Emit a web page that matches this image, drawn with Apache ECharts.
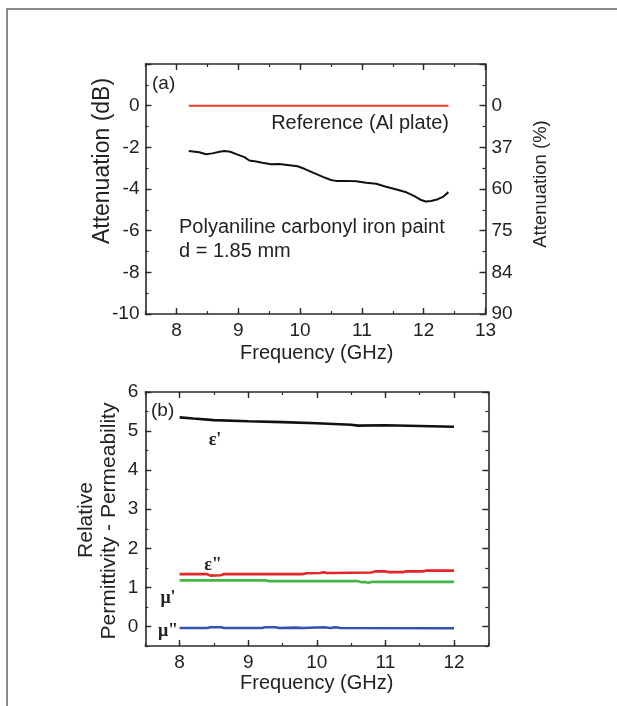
<!DOCTYPE html>
<html>
<head>
<meta charset="utf-8">
<script src="https://cdn.jsdelivr.net/npm/echarts@6/dist/echarts.min.js"></script>
<style>html,body{margin:0;padding:0;background:#fff;}#c{width:617px;height:706px;}</style>
</head>
<body>
<div id="c"></div>
<script>
// ---- Data (a) ----
const topFreq = [8.2, 8.3, 8.37, 8.48, 8.58, 8.7, 8.78, 8.87, 8.99, 9.1, 9.18, 9.29, 9.39, 9.53, 9.66, 9.83, 9.96, 10.07, 10.2, 10.37, 10.5, 10.58, 10.75, 10.91, 11.07, 11.23, 11.39, 11.56, 11.72, 11.85, 11.96, 12.03, 12.12, 12.23, 12.31, 12.4];
const topAtten = [-2.18, -2.21, -2.24, -2.33, -2.29, -2.21, -2.18, -2.21, -2.35, -2.47, -2.63, -2.68, -2.74, -2.81, -2.8, -2.86, -2.91, -3.03, -3.2, -3.42, -3.57, -3.61, -3.61, -3.63, -3.7, -3.75, -3.89, -4.02, -4.16, -4.34, -4.53, -4.6, -4.58, -4.49, -4.38, -4.15];
const refFreq = [8.2, 12.4];
const refAtten = [0, 0];
const rightTickValues = [0, -2, -4, -6, -8, -10];
const rightTickLabels = ["0", "37", "60", "75", "84", "90"];

// ---- Data (b) ----
const epsRealFreq = [8.0, 8.2, 8.5, 9.0, 9.5, 10.0, 10.5, 10.6, 11.0, 11.5, 12.0];
const epsRealVal = [5.35, 5.32, 5.28, 5.25, 5.23, 5.2, 5.16, 5.14, 5.15, 5.13, 5.11];
const epsImagFreq = [8.0, 8.4, 8.45, 8.6, 8.65, 9.8, 9.85, 10.05, 10.1, 10.15, 10.2, 10.8, 10.85, 11.0, 11.05, 11.25, 11.3, 11.55, 11.6, 12.0];
const epsImagVal = [1.34, 1.34, 1.30, 1.31, 1.34, 1.34, 1.36, 1.37, 1.39, 1.37, 1.37, 1.38, 1.41, 1.41, 1.39, 1.39, 1.41, 1.41, 1.43, 1.43];
const muRealFreq = [8.0, 9.25, 9.3, 10.6, 10.65, 10.7, 10.75, 10.8, 12.0];
const muRealVal = [1.18, 1.18, 1.16, 1.16, 1.13, 1.14, 1.12, 1.14, 1.14];
const muImagFreq = [8.0, 8.4, 8.45, 8.6, 8.65, 9.2, 9.25, 9.4, 9.45, 9.7, 9.8, 10.1, 10.2, 10.27, 10.35, 12.0];
const muImagVal = [-0.04, -0.04, -0.02, -0.02, -0.04, -0.04, -0.02, -0.02, -0.04, -0.03, -0.04, -0.02, -0.04, -0.02, -0.04, -0.045];

const topXMajor = [8, 9, 10, 11, 12, 13];
const topYMajor = [-10, -8, -6, -4, -2, 0, 2];
const botXMajor = [8, 9, 10, 11, 12];
const botYMajor = [0, 1, 2, 3, 4, 5, 6];

const zip = (a, b) => a.map((v, i) => [v, b[i]]);

const FONT = 'Liberation Sans, Arial, sans-serif';
const AX = '#2a2a2a';
const LBL = { fontFamily: FONT, fontSize: 19, color: '#222' };

function minorAxis(grid, pos, min, max, interval, showLine, label) {
  return {
    type: 'value', gridIndex: grid, position: pos, min: min, max: max, interval: interval,
    axisLine: { show: showLine, onZero: false, lineStyle: { color: AX, width: 1.6 } },
    axisTick: { show: true, inside: true, length: 3, lineStyle: { color: AX, width: 1.2 } },
    splitLine: { show: false },
    axisLabel: label ? Object.assign({ show: true }, LBL, label) : { show: false }
  };
}
function majorAxis(grid, pos, min, max, values) {
  return {
    type: 'value', gridIndex: grid, position: pos, min: min, max: max,
    axisLine: { show: false, onZero: false },
    axisTick: { show: true, inside: true, length: 6, customValues: values, lineStyle: { color: AX, width: 1.4 } },
    splitLine: { show: false },
    axisLabel: { show: false }
  };
}

const intFmt = v => (Math.abs(v - Math.round(v)) < 1e-9 ? String(Math.round(v)) : '');

const option = {
  animation: false,
  backgroundColor: '#fff',
  grid: [
    { left: 145.5, top: 64, width: 340, height: 250 },
    { left: 145.3, top: 392, width: 343, height: 254 }
  ],
  xAxis: [
    minorAxis(0, 'bottom', 7.5, 13, 0.5, true, { margin: 7, formatter: intFmt }),
    majorAxis(0, 'bottom', 7.5, 13, topXMajor),
    minorAxis(0, 'top', 7.5, 13, 0.5, true, null),
    majorAxis(0, 'top', 7.5, 13, topXMajor),
    minorAxis(1, 'bottom', 7.5, 12.5, 0.5, true, { margin: 7, formatter: intFmt }),
    majorAxis(1, 'bottom', 7.5, 12.5, botXMajor),
    minorAxis(1, 'top', 7.5, 12.5, 0.5, true, null),
    majorAxis(1, 'top', 7.5, 12.5, botXMajor)
  ],
  yAxis: [
    minorAxis(0, 'left', -10, 2, 1, true, { margin: 6, formatter: v => (v % 2 === 0 && v !== 2 ? String(v) : '') }),
    majorAxis(0, 'left', -10, 2, topYMajor),
    minorAxis(0, 'right', -10, 2, 1, true, { margin: 6, formatter: v => { const i = rightTickValues.indexOf(v); return i >= 0 ? rightTickLabels[i] : ''; } }),
    majorAxis(0, 'right', -10, 2, topYMajor),
    minorAxis(1, 'left', -0.5, 6, 0.5, true, { margin: 7, formatter: intFmt }),
    majorAxis(1, 'left', -0.5, 6, botYMajor),
    minorAxis(1, 'right', -0.5, 6, 0.5, true, null),
    majorAxis(1, 'right', -0.5, 6, botYMajor)
  ],
  series: [
    { type: 'line', xAxisIndex: 0, yAxisIndex: 0, data: zip(refFreq, refAtten), symbol: 'none', lineStyle: { color: '#e63a2c', width: 2 } },
    { type: 'line', xAxisIndex: 0, yAxisIndex: 0, data: zip(topFreq, topAtten), symbol: 'none', lineStyle: { color: '#111', width: 2 } },
    { type: 'line', xAxisIndex: 4, yAxisIndex: 4, data: zip(epsRealFreq, epsRealVal), symbol: 'none', lineStyle: { color: '#111', width: 2.6 } },
    { type: 'line', xAxisIndex: 4, yAxisIndex: 4, data: zip(epsImagFreq, epsImagVal), symbol: 'none', lineStyle: { color: '#e4262a', width: 2.6 } },
    { type: 'line', xAxisIndex: 4, yAxisIndex: 4, data: zip(muRealFreq, muRealVal), symbol: 'none', lineStyle: { color: '#45b545', width: 2.6 } },
    { type: 'line', xAxisIndex: 4, yAxisIndex: 4, data: zip(muImagFreq, muImagVal), symbol: 'none', lineStyle: { color: '#3552b0', width: 2.6 } }
  ],
  graphic: [
    { type: 'polyline', shape: { points: [[7, 706], [7, 9], [617, 9]] }, style: { stroke: '#8a8a8a', lineWidth: 2, fill: null } },
    // panel (a)
    { type: 'text', x: 103, y: 161, rotation: Math.PI / 2, style: { text: 'Attenuation (dB)', font: '23px ' + FONT, fill: '#222', textAlign: 'center', textVerticalAlign: 'middle' } },
    { type: 'text', x: 541, y: 184, rotation: Math.PI / 2, style: { text: 'Attenuation (%)', font: '18.5px ' + FONT, fill: '#222', textAlign: 'center', textVerticalAlign: 'middle' } },
    { type: 'text', x: 316.7, y: 353, style: { text: 'Frequency (GHz)', font: '20px ' + FONT, fill: '#222', textAlign: 'center', textVerticalAlign: 'middle' } },
    { type: 'text', x: 152, y: 84, style: { text: '(a)', font: '19px ' + FONT, fill: '#222', textAlign: 'left', textVerticalAlign: 'middle' } },
    { type: 'text', x: 449, y: 123, style: { text: 'Reference (Al plate)', font: '20px ' + FONT, fill: '#222', textAlign: 'right', textVerticalAlign: 'middle' } },
    { type: 'text', x: 179, y: 227, style: { text: 'Polyaniline carbonyl iron paint', font: '20px ' + FONT, fill: '#222', textAlign: 'left', textVerticalAlign: 'middle' } },
    { type: 'text', x: 179, y: 251, style: { text: 'd = 1.85 mm', font: '20px ' + FONT, fill: '#222', textAlign: 'left', textVerticalAlign: 'middle' } },
    // panel (b)
    { type: 'text', x: 86, y: 520, rotation: Math.PI / 2, style: { text: 'Relative', font: '21px ' + FONT, fill: '#222', textAlign: 'center', textVerticalAlign: 'middle' } },
    { type: 'text', x: 109, y: 521, rotation: Math.PI / 2, style: { text: 'Permittivity - Permeability', font: '21px ' + FONT, fill: '#222', textAlign: 'center', textVerticalAlign: 'middle' } },
    { type: 'text', x: 316.7, y: 683, style: { text: 'Frequency (GHz)', font: '20px ' + FONT, fill: '#222', textAlign: 'center', textVerticalAlign: 'middle' } },
    { type: 'text', x: 151, y: 411, style: { text: '(b)', font: '19px ' + FONT, fill: '#222', textAlign: 'left', textVerticalAlign: 'middle' } },
    { type: 'text', x: 215, y: 440, style: { text: "ε'", font: 'bold 18px Liberation Serif, serif', fill: '#222', textAlign: 'center', textVerticalAlign: 'middle' } },
    { type: 'text', x: 213, y: 565, style: { text: 'ε"', font: 'bold 18px Liberation Serif, serif', fill: '#222', textAlign: 'center', textVerticalAlign: 'middle' } },
    { type: 'text', x: 168, y: 598, style: { text: "μ'", font: 'bold 18px Liberation Serif, serif', fill: '#222', textAlign: 'center', textVerticalAlign: 'middle' } },
    { type: 'text', x: 168, y: 631, style: { text: 'μ"', font: 'bold 18px Liberation Serif, serif', fill: '#222', textAlign: 'center', textVerticalAlign: 'middle' } }
  ]
};

const chart = echarts.init(document.getElementById('c'), null, { renderer: 'canvas' });
chart.setOption(option);
</script>
</body>
</html>
